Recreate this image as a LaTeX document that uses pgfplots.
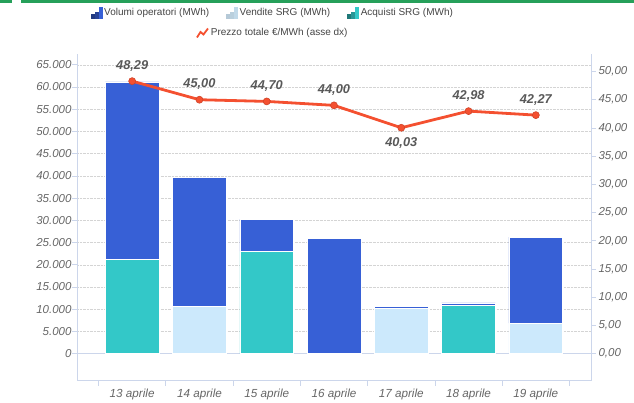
\documentclass[border=0pt]{standalone}
\usepackage{pgfplots}
\pgfplotsset{compat=1.18}
\usepackage{pgfplotstable}
\usepackage{fontspec}
\setmainfont{Liberation Sans}
\definecolor{volc}{RGB}{55,96,214}
\definecolor{venc}{RGB}{204,233,252}
\definecolor{acqc}{RGB}{51,200,200}
\definecolor{linec}{RGB}{244,80,48}
\definecolor{tickc}{RGB}{102,102,102}
\definecolor{labc}{RGB}{88,88,88}
\definecolor{legc}{RGB}{68,68,68}
\definecolor{axc}{RGB}{204,214,235}
\definecolor{gridc}{RGB}{212,212,212}
\definecolor{topg}{RGB}{38,160,90}

\pgfplotstableread{
x acq ven vol
0 21300 0 39870
1 0 10570 29100
2 23030 0 7260
3 0 0 25950
4 0 10210 360
5 10950 0 480
6 0 6900 19350
}\barsdata

\pgfplotstableread{
x p pos
0 48.29 1
1 45.00 1
2 44.70 1
3 44.00 1
4 40.03 -1
5 42.98 1
6 42.27 1
}\prezzo

\pgfplotsset{
  barleg/.style n args={3}{legend image code/.code={
    \fill[#1] (0bp,-5.5bp) rectangle (3bp,-1.5bp);
    \fill[#2] (4bp,-5.5bp) rectangle (7bp,1bp);
    \fill[#3] (8bp,-5.5bp) rectangle (11bp,5.5bp);}},
  common/.style={
    at={(77bp,22.3bp)}, anchor=south west,
    scale only axis, width=514bp, height=326.7bp,
    xmin=-0.82, xmax=6.82,
    axis line style={draw=axc, line width=0.8bp},
    tick style={draw=axc, line width=0.8bp},
    tick align=outside, major tick length=5bp,
    /pgf/number format/assume math mode=true,
    legend style={draw=none, fill=none, font=\fontsize{10bp}{12bp}\selectfont, text=legc,
      /tikz/every even column/.append style={column sep=15bp}},
    legend cell align=left,
  },
}

\begin{document}
\begin{tikzpicture}
\useasboundingbox (0,0) rectangle (634bp,403bp);
\fill[topg] (0,400.3bp) rectangle (12bp,403bp);
\fill[topg] (21bp,400.3bp) rectangle (634bp,403bp);
\begin{axis}[common,
  ymin=-6073, ymax=67430,
  axis x line*=bottom, axis y line*=left,
  ybar stacked, bar width=0.8,
  ytick={5000,10000,...,65000},
  extra y ticks={0},
  extra y tick style={major grid style={solid, draw=axc, line width=0.8bp}},
  ymajorgrids,
  major grid style={densely dotted, draw=gridc, line width=0.5bp},
  scaled y ticks=false,
  yticklabel style={font=\fontsize{11.5bp}{13bp}\selectfont\itshape, text=tickc, xshift=3bp,
    /pgf/number format/.cd, 1000 sep={.}, fixed, precision=0},
  xtick={-0.5,0.5,...,6.5}, xticklabels={{},{},{},{},{},{},{},{}},
  extra x ticks={0,1,2,3,4,5,6},
  extra x tick labels={13 aprile,14 aprile,15 aprile,16 aprile,17 aprile,18 aprile,19 aprile},
  extra x tick style={major tick length=0pt, tick label style={font=\fontsize{11.7bp}{13bp}\selectfont\itshape, text=tickc, yshift=-5bp}},
  legend style={at={(0.381,1.1255)}, anchor=center, legend columns=3},
  reverse legend,
]
\addplot[fill=acqc, draw=white, line width=0.5bp, barleg={acqc!60!black}{acqc!75!black}{acqc}] table[x=x,y=acq]{\barsdata};
\addlegendentry{Acquisti SRG (MWh)}
\addplot[fill=venc, draw=white, line width=0.5bp, barleg={venc!70!gray}{venc!75!gray}{venc!85!gray}] table[x=x,y=ven]{\barsdata};
\addlegendentry{Vendite SRG (MWh)}
\addplot[fill=volc, draw=white, line width=0.5bp, barleg={volc!60!black}{volc!70!black}{volc}] table[x=x,y=vol]{\barsdata};
\addlegendentry{Volumi operatori (MWh)}
\end{axis}
\begin{axis}[common,
  ymin=-4.78, ymax=53.1,
  axis x line=none, axis y line*=right,
  ytick={0,5,10,15,20,25,30,35,40,45,50},
  yticklabel style={font=\fontsize{11.5bp}{13bp}\selectfont\itshape, text=tickc, xshift=-1bp,
    /pgf/number format/.cd, fixed, fixed zerofill, precision=2, use comma},
  legend style={at={(0.381,1.0643)}, anchor=center},
]
\addplot[linec, line width=2.8bp, mark=*, mark size=3.5bp,
  mark options={fill=linec, draw=linec!85!black, line width=0.6bp},
  legend image code/.code={\draw[linec, line width=1.8bp] (0bp,-4.5bp) -- (3.5bp,1bp) -- (6.5bp,-1.5bp) -- (11bp,4.5bp);},
  point meta=y,
  nodes near coords={\pgfmathprintnumber[fixed,fixed zerofill,precision=2,use comma]{\pgfplotspointmeta}},
  visualization depends on={\thisrow{pos} \as \lpos},
  every node near coord/.append style={anchor=center, yshift=\lpos*15.5bp, text=labc,
    font=\fontsize{12.8bp}{14bp}\selectfont\bfseries\itshape},
] table[x=x,y=p]{\prezzo};
\addlegendentry{Prezzo totale €/MWh (asse dx)}
\end{axis}
\end{tikzpicture}
\end{document}
